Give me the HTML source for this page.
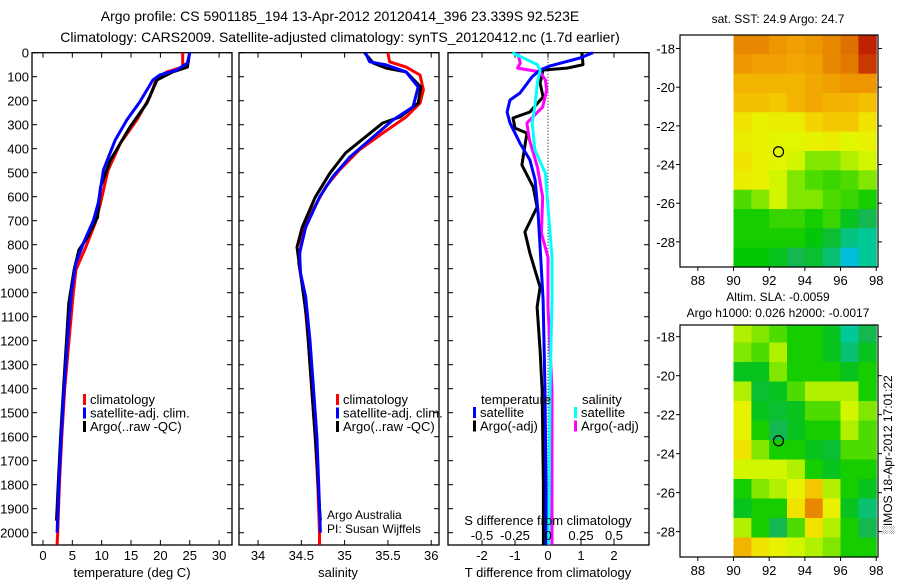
<!DOCTYPE html>
<html><head><meta charset="utf-8"><style>
html,body{margin:0;padding:0;background:#fff;}
svg{display:block;font-family:"Liberation Sans",sans-serif;}
text{fill:#000;}
</style></head><body>
<svg id="fig" width="900" height="580" viewBox="0 0 900 580" xmlns="http://www.w3.org/2000/svg">
<text x="340" y="21" font-size="14" text-anchor="middle">Argo profile: CS 5901185_194 13-Apr-2012 20120414_396 23.339S 92.523E</text>
<text x="340" y="42" font-size="14" text-anchor="middle">Climatology: CARS2009. Satellite-adjusted climatology: synTS_20120412.nc (1.7d earlier)</text>
<g id="g"></g>
</svg>
<script>
// ---- profile data (depth in m) ----
const depthTicks=[0,100,200,300,400,500,600,700,800,900,1000,1100,1200,1300,1400,1500,1600,1700,1800,1900,2000];
const tempTicks=[0,5,10,15,20,25,30];
const salTicks=[34,34.5,35,35.5,36];
const tdiffTicks=[-2,-1,0,1,2];
const sdiffTicks=[-0.5,-0.25,0,0.25,0.5];
const sdiffTickLabels=["-0.5","-0.25","0","0.25","0.5"];

const tClimD=[0,60,80,105,184,280,376,489,627,710,810,905,1018,1126,1400,1600,1800,2000,2050];
const tClimV=[23.8,23.8,21.1,19.4,18.2,16.0,13.2,11.1,9.8,8.9,7.3,5.6,5.1,4.7,3.7,3.2,2.8,2.5,2.4];
const tSatD=[0,43,72,93,114,205,280,364,489,627,698,793,877,989,1126,1400,1600,1800,2000];
const tSatV=[25.0,24.6,22.8,19.9,18.7,16.5,14.3,12.3,10.3,9.4,8.6,6.9,5.6,4.9,4.4,3.6,3.1,2.7,2.4];
const tArgoD=[0,60,80,114,210,310,447,560,685,768,823,905,1043,1126,1400,1600,1800,1950];
const tArgoV=[25.0,24.6,22.1,19.4,17.7,14.8,11.5,9.8,9.3,7.6,6.1,5.3,4.4,4.2,3.5,3.0,2.6,2.3];

const sClimD=[0,38,60,93,155,210,268,335,405,489,560,656,752,877,1003,1200,1400,1600,1800,2000,2050];
const sClimV=[35.5,35.52,35.71,35.87,35.91,35.87,35.71,35.44,35.17,34.94,34.78,34.63,34.51,34.47,34.53,34.58,34.62,34.66,34.69,34.71,34.71];
const sSatD=[0,38,51,80,143,226,280,351,435,518,602,727,835,918,1018,1200,1400,1600,1800,2000];
const sSatV=[35.24,35.29,35.48,35.71,35.85,35.79,35.56,35.33,35.06,34.86,34.71,34.55,34.48,34.49,34.55,34.6,34.64,34.68,34.7,34.72];
const sArgoD=[0,43,64,80,143,210,268,293,351,418,502,602,727,810,918,1100,1300,1500,1700,1900,1950];
const sArgoV=[35.23,35.33,35.48,35.71,35.88,35.85,35.64,35.44,35.24,35.01,34.83,34.66,34.51,34.45,34.49,34.56,34.6,34.64,34.68,34.71,34.72];

const dTSatD=[0,22,55,72,100,168,197,247,293,377,447,530,668,810,1030,1405,1800,2050];
const dTSatV=[1.36,0.97,0.06,-0.24,-0.48,-0.85,-1.15,-1.24,-1.15,-0.85,-0.55,-0.39,-0.3,-0.24,-0.15,-0.09,-0.06,-0.05];
const dTArgoD=[0,50,64,72,126,184,247,272,314,335,468,560,643,747,835,977,1060,1240,1405,1800,2050];
const dTArgoV=[1.03,1.06,0.58,-0.15,-0.24,-0.15,-0.55,-1.06,-1.0,-0.64,-0.79,-0.45,-0.33,-0.7,-0.55,-0.24,-0.33,-0.24,-0.18,-0.14,-0.14];
const dSSatD=[0,50,72,126,226,293,405,502,643,852,1030,1405,1800,2050];
const dSSatV=[-0.27,-0.08,-0.06,-0.08,-0.1,-0.12,-0.1,-0.02,0,0.03,0.03,0.015,0.01,0.005];
const dSArgoD=[0,43,64,80,114,155,226,293,364,476,602,752,852,1060,1405,1800,2050];
const dSArgoV=[-0.23,-0.21,-0.23,-0.06,-0.02,-0.01,-0.04,-0.16,-0.14,-0.08,-0.04,-0.05,0,0,0.03,0.03,0.03];

// ---- map data (1-degree cells, rows from north, cols lon 90..98); values are colormap fraction ----
const mapLonTicks=[88,90,92,94,96,98];
const mapLatTicks=[-18,-20,-22,-24,-26,-28];
const sstRows=[
[0.85,0.85,0.82,0.8,0.82,0.85,0.9,0.97],
[0.82,0.8,0.8,0.78,0.8,0.85,0.88,0.95],
[0.75,0.75,0.75,0.75,0.78,0.8,0.82,0.82],
[0.72,0.72,0.7,0.75,0.78,0.76,0.75,0.72],
[0.65,0.6,0.62,0.62,0.68,0.7,0.7,0.65],
[0.62,0.6,0.58,0.58,0.6,0.62,0.58,0.6],
[0.65,0.6,0.58,0.55,0.45,0.45,0.5,0.55],
[0.62,0.6,0.55,0.45,0.4,0.38,0.4,0.45],
[0.4,0.45,0.55,0.45,0.45,0.4,0.38,0.35],
[0.35,0.35,0.38,0.38,0.35,0.38,0.3,0.25],
[0.35,0.35,0.35,0.35,0.32,0.28,0.18,0.15],
[0.33,0.33,0.3,0.25,0.28,0.2,0.05,0.15]];
const slaRows=[
[0.5,0.45,0.4,0.35,0.35,0.3,0.15,0.25],
[0.45,0.4,0.5,0.35,0.35,0.3,0.2,0.3],
[0.3,0.3,0.45,0.35,0.35,0.35,0.3,0.35],
[0.5,0.28,0.3,0.4,0.5,0.5,0.5,0.35],
[0.6,0.3,0.28,0.3,0.4,0.4,0.55,0.45],
[0.6,0.35,0.25,0.3,0.35,0.35,0.5,0.4],
[0.65,0.45,0.35,0.35,0.3,0.28,0.4,0.4],
[0.55,0.55,0.55,0.5,0.35,0.3,0.35,0.35],
[0.35,0.45,0.5,0.6,0.7,0.5,0.35,0.3],
[0.3,0.35,0.35,0.65,0.85,0.6,0.3,0.2],
[0.5,0.35,0.25,0.4,0.65,0.5,0.35,0.25],
[0.75,0.65,0.6,0.55,0.5,0.45,0.35,0.35]];
const argoLon=92.523, argoLat=-23.339;

const NS="http://www.w3.org/2000/svg";
const G=document.getElementById('g');
function el(tag,attrs,parent){const e=document.createElementNS(NS,tag);for(const k in attrs)e.setAttribute(k,attrs[k]);(parent||G).appendChild(e);return e;}
function txt(x,y,s,size,anchor,parent){const t=el('text',{x:x,y:y,'font-size':size,'text-anchor':anchor||'middle'},parent);t.textContent=s;return t;}

const TOP=52.7, BOT=545, DMAX=(BOT-TOP)/0.24;
const yD=d=>TOP+d*(BOT-TOP)/DMAX;

function panel(name,x0,x1,vmin,vmax){
  const g=el('g',{});
  
  
  const xs=v=>x0+(v-vmin)/(vmax-vmin)*(x1-x0);
  return {g,xs,x0,x1};
}
function box(p,xt,showDepthLabels){
  const r=el('rect',{x:p.x0,y:TOP,width:p.x1-p.x0,height:BOT-TOP,fill:'none',stroke:'#000','stroke-width':1.3},p.g);
  
  
  depthTicks.forEach(d=>{
    const y=yD(d);
    el('line',{x1:p.x0,x2:p.x0+5,y1:y,y2:y,stroke:'#000'},p.g);
    el('line',{x1:p.x1-5,x2:p.x1,y1:y,y2:y,stroke:'#000'},p.g);
    if(showDepthLabels){const t=txt(p.x0-3,y+5,String(d),13,'end',p.g);
      
      }
  });
  xt.forEach(v=>{const x=p.xs(v);
    el('line',{x1:x,x2:x,y1:BOT,y2:BOT-5,stroke:'#000'},p.g);
    el('line',{x1:x,x2:x,y1:TOP,y2:TOP+5,stroke:'#000'},p.g);});
}
function line(p,D,V,color,name,w){
  const pts=D.map((d,i)=>p.xs(V[i]).toFixed(1)+','+yD(d).toFixed(1)).join(' ');
  const l=el('polyline',{points:pts,fill:'none',stroke:color,'stroke-width':w||3,'stroke-linejoin':'round'},p.g);
  
  
}
function legend(p,x,y,items){
  items.forEach((it,i)=>{
    el('rect',{x:x,y:y+i*13.5-10,width:3,height:11,fill:it[0]},p.g);
    const t=txt(x+7,y+i*13.5,it[1],13,'start',p.g);
    
    
  });
}

// Panel 1: temperature
const p1=panel('temperature-panel',32,232,-1.87,32.2);
box(p1,tempTicks,true);
line(p1,tClimD,tClimV,'#f00','temp-climatology-line');
line(p1,tArgoD,tArgoV,'#000','temp-argo-line');
line(p1,tSatD,tSatV,'#00f','temp-satellite-line');
tempTicks.forEach(v=>{const t=txt(p1.xs(v),560,String(v),13,'middle',p1.g);
  
  });
txt(132,577,'temperature (deg C)',13,'middle',p1.g);
legend(p1,83,404,[['#f00','climatology'],['#00f','satellite-adj. clim.'],['#000','Argo(..raw -QC)']]);

// Panel 2: salinity
const p2=panel('salinity-panel',239,439,33.78,36.09);
box(p2,salTicks,false);
line(p2,sClimD,sClimV,'#f00','sal-climatology-line');
line(p2,sArgoD,sArgoV,'#000','sal-argo-line');
line(p2,sSatD,sSatV,'#00f','sal-satellite-line');
salTicks.forEach(v=>{const t=txt(p2.xs(v),560,String(v),13,'middle',p2.g);
  
  });
txt(338,577,'salinity',13,'middle',p2.g);
legend(p2,336,404,[['#f00','climatology'],['#00f','satellite-adj. clim.'],['#000','Argo(..raw -QC)']]);
txt(327,519,'Argo Australia',12,'start',p2.g);
txt(327,533,'PI: Susan Wijffels',12,'start',p2.g);

// Panel 3: differences
const p3=panel('difference-panel',448,649,-3.03,3.06);
box(p3,tdiffTicks,false);
const z=el('line',{x1:p3.xs(0),x2:p3.xs(0),y1:TOP,y2:BOT,stroke:'#000','stroke-dasharray':'1,2'},p3.g);


const p3s={g:p3.g,xs:v=>p3.xs(v*4)};
line(p3,dTArgoD,dTArgoV,'#000','tdiff-argo-line');
line(p3s,dSArgoD,dSArgoV,'#f0f','sdiff-argo-line');
line(p3,dTSatD,dTSatV,'#00f','tdiff-satellite-line');
line(p3s,dSSatD,dSSatV,'#0ff','sdiff-satellite-line');
tdiffTicks.forEach(v=>{const t=txt(p3.xs(v),560,String(v),13,'middle',p3.g);
  
  });
sdiffTicks.forEach((v,i)=>{const t=txt(p3s.xs(v),540,sdiffTickLabels[i],13,'middle',p3.g);
  
  });
txt(548,525,'S difference from climatology',13,'middle',p3.g);
txt(548,577,'T difference from climatology',13,'middle',p3.g);
txt(481,404,'temperature',13,'start',p3.g);
legend(p3,473,417,[['#00f','satellite'],['#000','Argo(-adj)']]);
txt(582,404,'salinity',13,'start',p3.g);
legend(p3,574,417,[['#0ff','satellite'],['#f0f','Argo(-adj)']]);

// Colormap
const cstops=[[0,[0,184,255]],[0.15,[0,200,150]],[0.25,[20,184,80]],[0.33,[0,200,0]],[0.42,[100,224,0]],[0.5,[176,240,0]],[0.57,[224,248,0]],[0.64,[240,232,0]],[0.7,[244,200,0]],[0.8,[240,160,0]],[0.9,[224,112,0]],[1,[176,0,0]]];
function cmap(v){for(let i=1;i<cstops.length;i++){if(v<=cstops[i][0]){const a=cstops[i-1],b=cstops[i],f=(v-a[0])/(b[0]-a[0]);
  return 'rgb('+a[1].map((c,k)=>Math.round(c+(b[1][k]-c)*f)).join(',')+')';}}return 'rgb(176,0,0)';}

function mapPanel(name,top,bottom,latTop,latBot,rows){
  const g=el('g',{});
  
  
  const L=680,R=878,lonMin=87,lonMax=98.1;
  const xs=lo=>L+(lo-lonMin)/(lonMax-lonMin)*(R-L);
  const ys=la=>top+(latTop-la)/(latTop-latBot)*(bottom-top);
  rows.forEach((row,ri)=>row.forEach((v,ci)=>{
    const la0=Math.min(latTop,-17.3-ri), la1=-18.3-ri;
    const c=el('rect',{x:xs(90+ci).toFixed(1),y:ys(la0).toFixed(1),width:(xs(91+ci)-xs(90+ci)+0.6).toFixed(1),height:(ys(Math.max(la1,latBot))-ys(la0)+0.6).toFixed(1),fill:cmap(v)},g);
    
    
  }));
  const b=el('rect',{x:L,y:top,width:R-L,height:bottom-top,fill:'none',stroke:'#000','stroke-width':1.2},g);
  
  
  mapLonTicks.forEach(lo=>{const x=xs(lo);el('line',{x1:x,x2:x,y1:bottom,y2:bottom+4,stroke:'#000'},g);
    const t=txt(x,bottom+18,String(lo),13,'middle',g);
    
    });
  mapLatTicks.forEach(la=>{const y=ys(la);el('line',{x1:L-4,x2:L,y1:y,y2:y,stroke:'#000'},g);el('line',{x1:R,x2:R+4,y1:y,y2:y,stroke:'#000'},g);
    const t=txt(L-5,y+5,String(la),13,'end',g);
    
    });
  const c=el('circle',{cx:xs(argoLon),cy:ys(argoLat),r:5,fill:'none',stroke:'#000','stroke-width':1.2},g);
  
  
  return g;
}
mapPanel('sst-map',35,267,-17.3,-29.3,sstRows);
txt(778,23,'sat. SST: 24.9 Argo: 24.7',12,'middle');
mapPanel('sla-map',325,557,-17.4,-29.3,slaRows);
txt(778,301,'Altim. SLA: -0.0059',12,'middle');
txt(778,317,'Argo h1000: 0.026 h2000: -0.0017',12,'middle');
const rt=txt(0,0,'\u2591IMOS 18-Apr-2012 17:01:22',12,'middle');
rt.setAttribute('transform','translate(892,455) rotate(-90)');


</script>
</body></html>
